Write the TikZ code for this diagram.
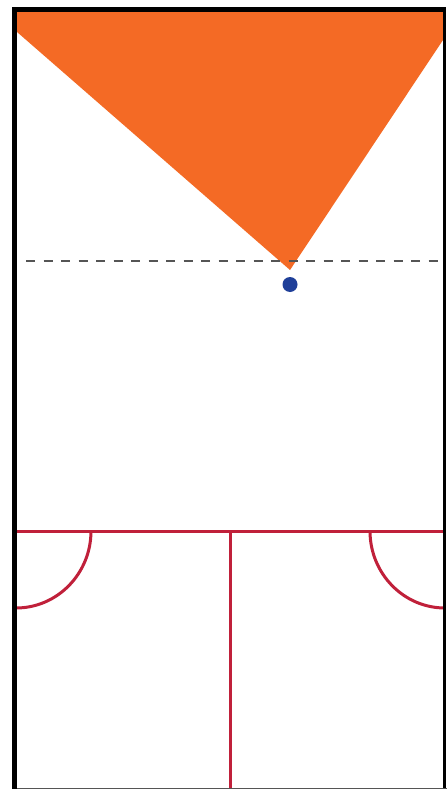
\documentclass[tikz,border=0pt]{standalone}
\usepackage{tikz}
\definecolor{sorange}{HTML}{F46A25}
\definecolor{sred}{HTML}{C0203A}
\definecolor{sblue}{HTML}{1F3F99}
\definecolor{sgray}{HTML}{555555}
\tikzset{
  wall/.style={fill=black, draw=none},
  redline/.style={draw=sred, line width=3pt},
  dashline/.style={draw=sgray, line width=1.6pt, dash pattern=on 9pt off 8.5pt},
}
\begin{document}
\begin{tikzpicture}[x=1pt,y=-1pt]
\useasboundingbox[fill=white] (0,0) rectangle (447,789);
% orange zone
\fill[sorange] (17,12) -- (443,12) -- (443,40) -- (290,270) -- (17,32) -- cycle;
% dashed line
\draw[dashline] (26,261) -- (440,261);
% blue dot
\fill[sblue] (290,284.5) circle (7.5);
% red lines
\coordinate (L) at (17,531);
\coordinate (R) at (443,531);
\coordinate (M) at (230.7,531);
\coordinate (Mb) at (230.7,789);
\draw[redline] (L) -- (R);
\draw[redline] (M) -- (Mb);
\draw[redline] (91,531) arc[start angle=0, end angle=-90, x radius=75, y radius=-77];
\draw[redline] (370,531) arc[start angle=180, end angle=270, x radius=75, y radius=-77];
% walls
\fill[wall] (12,7) rectangle (446,12);
\fill[wall] (12,7) rectangle (17,789);
\fill[wall] (443,7) rectangle (445.5,789);
\fill[sgray] (17,787.5) rectangle (447,789);
\end{tikzpicture}
\end{document}
